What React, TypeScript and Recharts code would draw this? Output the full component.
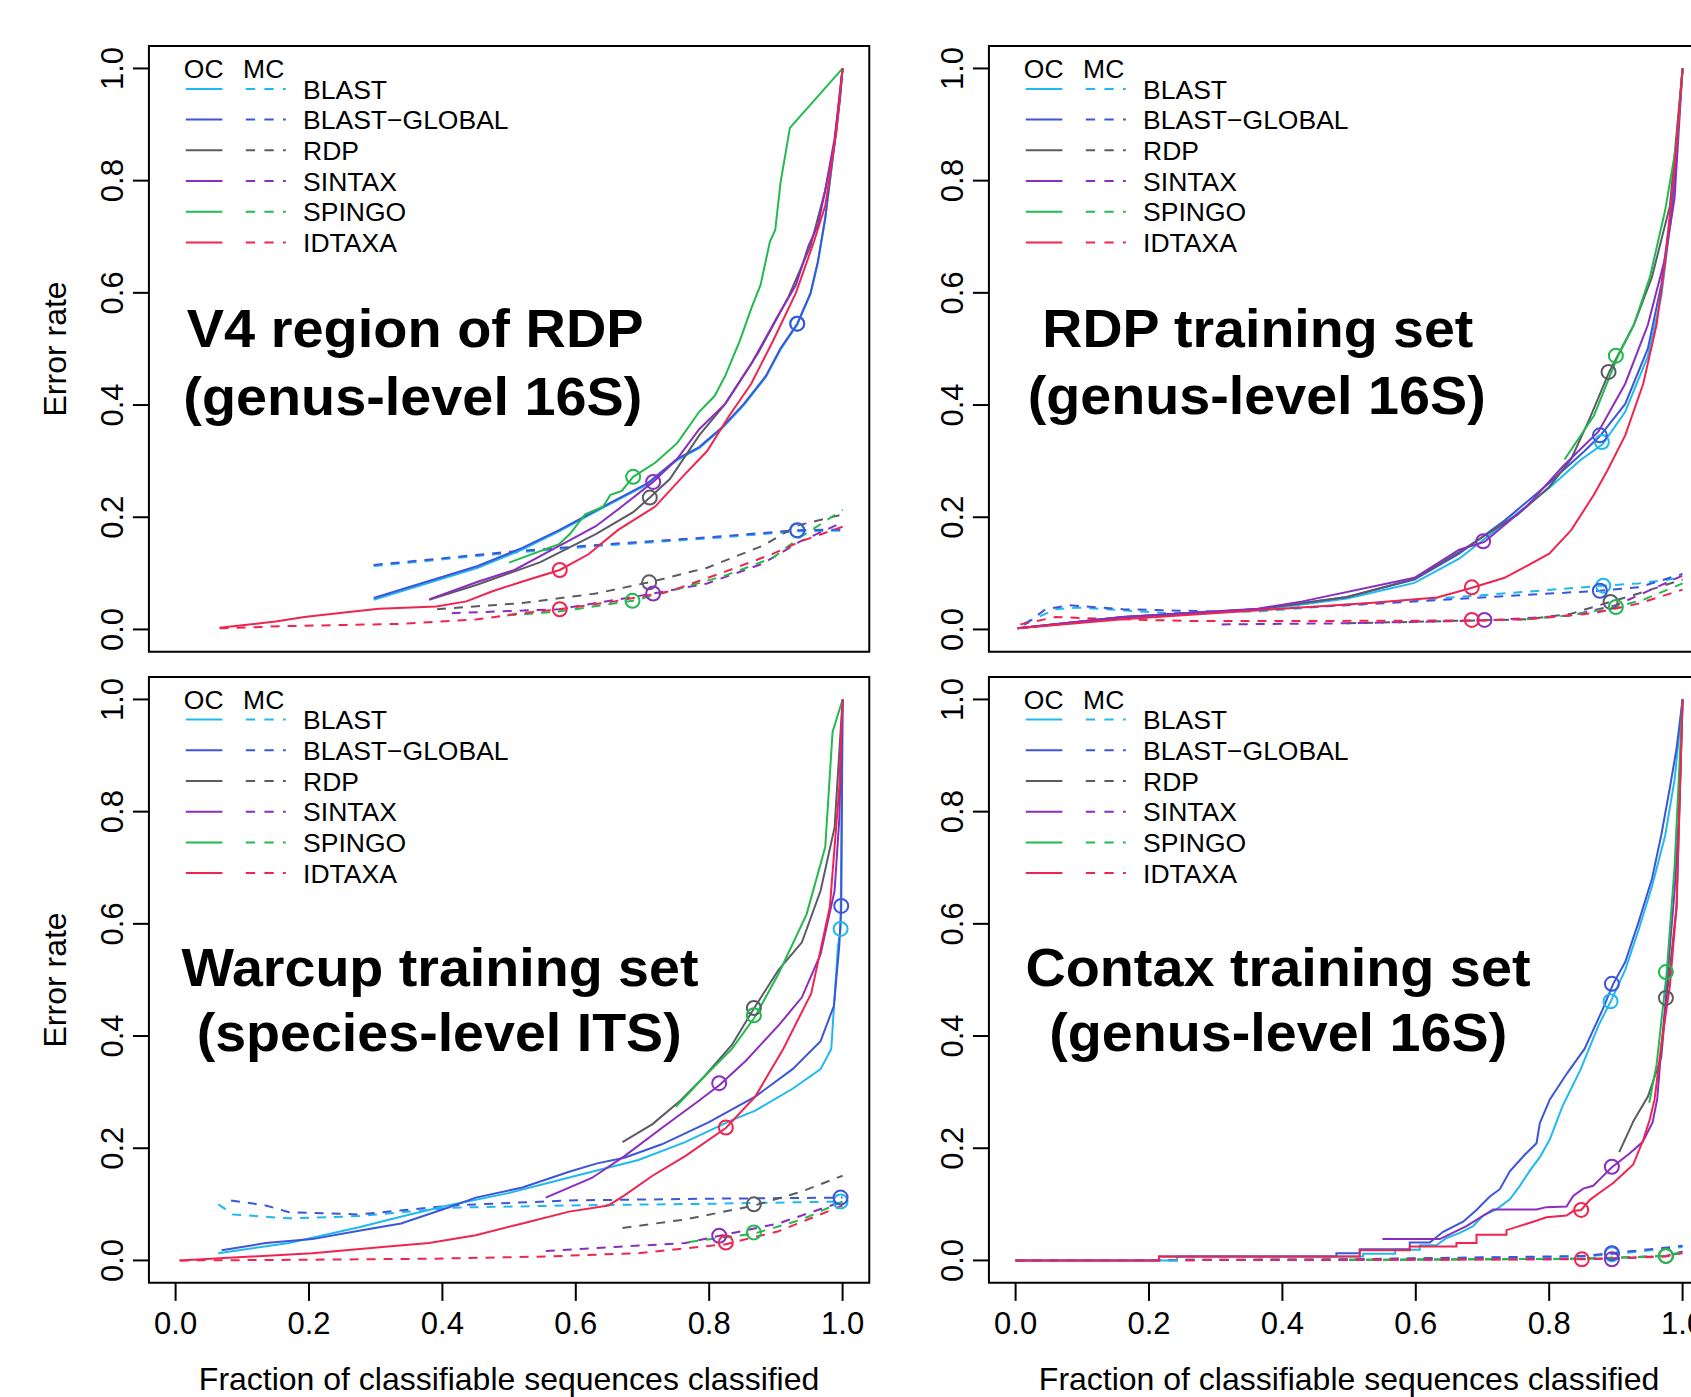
import React from 'react';
import { ComposedChart, Line, Scatter, XAxis, YAxis, ReferenceArea, Legend } from 'recharts';

const methods = ['BLAST', 'BLAST-GLOBAL', 'RDP', 'SINTAX', 'SPINGO', 'IDTAXA'];
const palette = ['#20b9ef', '#3d55d9', '#5b5b66', '#8b2dbf', '#22ba4f', '#f0254f'];
const axisTicks = [0, 0.2, 0.4, 0.6, 0.8, 1];

// V4 region of RDP
const v4OcBlast = [[0.297,0.053],[0.453,0.110],[0.519,0.142],[0.575,0.175],[0.641,0.217],[0.708,0.259],[0.752,0.302],[0.785,0.323],[0.819,0.358],[0.852,0.400],[0.885,0.450],[0.907,0.499],[0.932,0.543],[0.952,0.598],[0.963,0.654],[0.974,0.732],[0.985,0.837],[0.996,0.944],[1,1]];
const v4OcGlobal = [[0.297,0.056],[0.453,0.113],[0.519,0.145],[0.575,0.177],[0.641,0.219],[0.708,0.261],[0.752,0.304],[0.785,0.325],[0.819,0.360],[0.852,0.402],[0.885,0.452],[0.907,0.501],[0.932,0.545],[0.952,0.600],[0.963,0.656],[0.974,0.734],[0.985,0.839],[0.996,0.945],[1,1]];
const v4OcRdp = [[0.380,0.053],[0.453,0.080],[0.547,0.120],[0.630,0.170],[0.686,0.209],[0.711,0.235],[0.741,0.268],[0.785,0.346],[0.824,0.402],[0.874,0.494],[0.919,0.593],[0.952,0.684],[0.974,0.783],[0.988,0.868],[1,1]];
const v4OcSintax = [[0.381,0.054],[0.453,0.085],[0.508,0.106],[0.564,0.142],[0.608,0.170],[0.630,0.184],[0.669,0.219],[0.716,0.263],[0.752,0.304],[0.785,0.357],[0.824,0.402],[0.863,0.473],[0.902,0.557],[0.930,0.614],[0.949,0.684],[0.963,0.720],[0.974,0.783],[0.988,0.875],[1,1]];
const v4OcSpingo = [[0.500,0.119],[0.575,0.152],[0.591,0.170],[0.614,0.205],[0.641,0.219],[0.652,0.240],[0.669,0.247],[0.686,0.272],[0.719,0.297],[0.752,0.332],[0.785,0.388],[0.808,0.416],[0.824,0.452],[0.846,0.515],[0.863,0.572],[0.877,0.614],[0.891,0.691],[0.899,0.712],[0.907,0.797],[0.921,0.894],[1,1]];
const v4OcIdtaxa = [[0.066,0.003],[0.150,0.014],[0.193,0.022],[0.253,0.030],[0.305,0.037],[0.391,0.041],[0.436,0.050],[0.475,0.068],[0.519,0.085],[0.576,0.106],[0.619,0.134],[0.663,0.177],[0.719,0.219],[0.763,0.276],[0.797,0.318],[0.830,0.381],[0.863,0.438],[0.896,0.515],[0.930,0.600],[0.957,0.691],[0.974,0.755],[0.991,0.889],[1,1]];
const v4McBlast = [[0.297,0.113],[0.497,0.136],[0.647,0.150],[0.797,0.162],[0.932,0.175],[1,0.176]];
const v4McGlobal = [[0.297,0.115],[0.497,0.138],[0.647,0.152],[0.797,0.164],[0.932,0.177],[1,0.178]];
const v4McRdp = [[0.392,0.036],[0.519,0.047],[0.630,0.064],[0.710,0.084],[0.797,0.110],[0.880,0.149],[0.932,0.185],[1,0.205]];
const v4McSintax = [[0.414,0.029],[0.575,0.036],[0.716,0.064],[0.797,0.082],[0.880,0.117],[0.935,0.156],[1,0.191]];
const v4McSpingo = [[0.497,0.025],[0.575,0.032],[0.685,0.051],[0.741,0.068],[0.824,0.096],[0.896,0.128],[0.935,0.163],[1,0.213]];
const v4McIdtaxa = [[0.066,0.002],[0.167,0.006],[0.339,0.010],[0.453,0.018],[0.519,0.029],[0.576,0.036],[0.658,0.050],[0.741,0.068],[0.824,0.103],[0.896,0.135],[0.935,0.156],[1,0.183]];
const v4Marks = [['BLAST',0.932,0.545],['BLAST-GLOBAL',0.932,0.545],['RDP',0.711,0.235],['SINTAX',0.716,0.263],['SPINGO',0.686,0.272],['IDTAXA',0.576,0.106],
  ['BLAST',0.932,0.176],['BLAST-GLOBAL',0.932,0.177],['RDP',0.710,0.084],['SINTAX',0.716,0.064],['SPINGO',0.685,0.051],['IDTAXA',0.576,0.036]];

// RDP training set
const rdpOcBlast = [[0.003,0.002],[0.161,0.020],[0.363,0.034],[0.497,0.055],[0.598,0.083],[0.665,0.126],[0.733,0.189],[0.800,0.252],[0.847,0.302],[0.880,0.330],[0.914,0.388],[0.948,0.487],[0.968,0.593],[0.985,0.755],[1,1]];
const rdpOcGlobal = [[0.003,0.002],[0.161,0.022],[0.363,0.036],[0.497,0.058],[0.598,0.089],[0.665,0.135],[0.733,0.194],[0.800,0.261],[0.853,0.318],[0.877,0.346],[0.914,0.402],[0.948,0.501],[0.968,0.614],[0.985,0.769],[1,1]];
const rdpOcRdp = [[0.003,0.002],[0.161,0.022],[0.363,0.036],[0.497,0.058],[0.598,0.090],[0.665,0.138],[0.753,0.205],[0.800,0.254],[0.833,0.304],[0.860,0.374],[0.890,0.459],[0.927,0.543],[0.954,0.628],[0.981,0.755],[1,1]];
const rdpOcSintax = [[0.003,0.002],[0.161,0.022],[0.363,0.037],[0.430,0.050],[0.598,0.092],[0.665,0.142],[0.703,0.156],[0.766,0.219],[0.820,0.290],[0.874,0.353],[0.914,0.438],[0.948,0.543],[0.974,0.663],[0.988,0.769],[1,1]];
const rdpOcSpingo = [[0.823,0.303],[0.867,0.381],[0.903,0.487],[0.927,0.543],[0.951,0.628],[0.974,0.748],[0.991,0.867],[1,1]];
const rdpOcIdtaxa = [[0.003,0.002],[0.161,0.018],[0.363,0.034],[0.531,0.047],[0.632,0.057],[0.683,0.074],[0.733,0.092],[0.766,0.113],[0.800,0.135],[0.833,0.177],[0.867,0.240],[0.887,0.283],[0.914,0.346],[0.941,0.438],[0.961,0.543],[0.974,0.656],[0.988,0.825],[1,1]];
const rdpMcBlast = [[0.013,0.011],[0.030,0.020],[0.060,0.036],[0.094,0.039],[0.228,0.029],[0.363,0.032],[0.531,0.047],[0.699,0.061],[0.881,0.078],[0.934,0.082],[1,0.092]];
const rdpMcGlobal = [[0.013,0.008],[0.045,0.036],[0.081,0.043],[0.161,0.036],[0.296,0.032],[0.497,0.043],[0.699,0.057],[0.876,0.069],[0.934,0.075],[1,0.099]];
const rdpMcRdp = [[0.497,0.011],[0.766,0.018],[0.833,0.028],[0.891,0.049],[0.934,0.064],[1,0.089]];
const rdpMcSintax = [[0.309,0.009],[0.497,0.011],[0.703,0.016],[0.833,0.025],[0.900,0.043],[1,0.096]];
const rdpMcSpingo = [[0.766,0.018],[0.833,0.025],[0.900,0.040],[0.941,0.053],[1,0.082]];
const rdpMcIdtaxa = [[0.007,0.009],[0.060,0.022],[0.161,0.018],[0.262,0.015],[0.430,0.015],[0.684,0.016],[0.766,0.018],[0.867,0.029],[0.934,0.046],[1,0.071]];
const rdpMarks = [['BLAST',0.879,0.334],['BLAST-GLOBAL',0.876,0.346],['RDP',0.889,0.459],['SINTAX',0.701,0.157],['SPINGO',0.900,0.488],['IDTAXA',0.684,0.075],
  ['BLAST',0.881,0.078],['BLAST-GLOBAL',0.876,0.069],['RDP',0.892,0.049],['SINTAX',0.703,0.017],['SPINGO',0.900,0.040],['IDTAXA',0.684,0.017]];

// Warcup training set
const wcOcBlast = [[0.064,0.013],[0.170,0.031],[0.275,0.059],[0.345,0.080],[0.408,0.098],[0.499,0.120],[0.555,0.137],[0.624,0.158],[0.694,0.179],[0.764,0.211],[0.834,0.250],[0.869,0.267],[0.925,0.306],[0.967,0.341],[0.983,0.377],[0.993,0.560],[0.997,0.591],[1,1]];
const wcOcGlobal = [[0.069,0.018],[0.135,0.031],[0.205,0.038],[0.275,0.053],[0.338,0.066],[0.408,0.094],[0.450,0.112],[0.520,0.130],[0.590,0.158],[0.632,0.173],[0.673,0.183],[0.729,0.207],[0.799,0.246],[0.869,0.292],[0.925,0.341],[0.967,0.391],[0.987,0.454],[0.995,0.560],[0.998,0.631],[1,1]];
const wcOcRdp = [[0.670,0.211],[0.715,0.243],[0.757,0.285],[0.792,0.327],[0.834,0.384],[0.868,0.451],[0.904,0.518],[0.939,0.567],[0.967,0.659],[0.988,0.772],[1,1]];
const wcOcSintax = [[0.555,0.112],[0.624,0.147],[0.673,0.186],[0.729,0.236],[0.785,0.285],[0.816,0.313],[0.855,0.356],[0.904,0.419],[0.939,0.469],[0.967,0.546],[0.988,0.659],[0.995,0.786],[1,1]];
const wcOcSpingo = [[0.750,0.274],[0.792,0.327],[0.834,0.377],[0.868,0.433],[0.904,0.511],[0.946,0.617],[0.974,0.737],[0.985,0.942],[1,1]];
const wcOcIdtaxa = [[0.006,0.000],[0.100,0.006],[0.205,0.013],[0.310,0.024],[0.380,0.031],[0.450,0.045],[0.520,0.066],[0.590,0.087],[0.649,0.098],[0.673,0.116],[0.715,0.151],[0.764,0.186],[0.825,0.236],[0.869,0.292],[0.911,0.377],[0.953,0.476],[0.981,0.631],[0.995,0.843],[1,1]];
const wcMcBlast = [[0.064,0.100],[0.086,0.082],[0.170,0.075],[0.275,0.079],[0.415,0.094],[0.590,0.098],[0.799,0.101],[1,0.105]];
const wcMcGlobal = [[0.083,0.107],[0.135,0.098],[0.170,0.086],[0.275,0.082],[0.415,0.098],[0.590,0.107],[0.799,0.110],[1,0.112]];
const wcMcRdp = [[0.670,0.058],[0.764,0.073],[0.868,0.098],[0.939,0.123],[1,0.151]];
const wcMcSintax = [[0.555,0.017],[0.659,0.024],[0.764,0.031],[0.816,0.044],[0.904,0.066],[1,0.105]];
const wcMcSpingo = [[0.770,0.033],[0.868,0.048],[0.939,0.073],[1,0.105]];
const wcMcIdtaxa = [[0.006,0.000],[0.170,0.001],[0.380,0.003],[0.555,0.007],[0.694,0.013],[0.825,0.029],[0.904,0.052],[1,0.098]];
const wcMarks = [['BLAST',0.997,0.591],['BLAST-GLOBAL',0.998,0.632],['RDP',0.867,0.450],['SINTAX',0.815,0.316],['SPINGO',0.867,0.437],['IDTAXA',0.825,0.237],
  ['BLAST',0.997,0.105],['BLAST-GLOBAL',0.997,0.112],['RDP',0.867,0.100],['SINTAX',0.815,0.044],['SPINGO',0.867,0.050],['IDTAXA',0.825,0.032]];

// Contax training set
const ctOcBlast = [[0,0],[0.242,0],[0.242,0.007],[0.521,0.007],[0.521,0.012],[0.569,0.012],[0.569,0.019],[0.606,0.019],[0.606,0.027],[0.631,0.027],[0.646,0.040],[0.666,0.049],[0.686,0.061],[0.701,0.080],[0.721,0.091],[0.741,0.109],[0.756,0.133],[0.771,0.160],[0.786,0.184],[0.801,0.216],[0.820,0.275],[0.847,0.340],[0.874,0.419],[0.892,0.461],[0.914,0.518],[0.934,0.589],[0.954,0.666],[0.974,0.758],[0.988,0.857],[1,1]];
const ctOcGlobal = [[0,0],[0.215,0],[0.215,0.007],[0.481,0.007],[0.481,0.013],[0.516,0.013],[0.516,0.020],[0.591,0.020],[0.591,0.032],[0.621,0.032],[0.641,0.051],[0.671,0.069],[0.691,0.090],[0.711,0.114],[0.726,0.127],[0.741,0.159],[0.763,0.188],[0.781,0.209],[0.786,0.245],[0.801,0.287],[0.827,0.334],[0.853,0.377],[0.880,0.447],[0.896,0.493],[0.914,0.532],[0.934,0.603],[0.954,0.680],[0.968,0.758],[0.981,0.843],[0.991,0.913],[1,1]];
const ctOcRdp = [[0.905,0.193],[0.927,0.250],[0.948,0.292],[0.968,0.362],[0.976,0.469],[0.981,0.520],[0.991,0.631],[1,1]];
const ctOcSintax = [[0.550,0.038],[0.636,0.038],[0.676,0.061],[0.716,0.091],[0.781,0.091],[0.796,0.095],[0.826,0.096],[0.836,0.115],[0.851,0.128],[0.866,0.133],[0.876,0.145],[0.894,0.166],[0.920,0.190],[0.940,0.211],[0.955,0.246],[0.962,0.288],[0.968,0.377],[0.974,0.454],[0.981,0.560],[0.988,0.659],[0.995,0.807],[1,1]];
const ctOcSpingo = [[0.950,0.281],[0.961,0.349],[0.976,0.511],[0.988,0.702],[1,1]];
const ctOcIdtaxa = [[0,0],[0.215,0],[0.215,0.007],[0.516,0.007],[0.516,0.018],[0.591,0.018],[0.591,0.025],[0.661,0.025],[0.661,0.031],[0.691,0.031],[0.691,0.046],[0.736,0.046],[0.736,0.054],[0.776,0.069],[0.796,0.077],[0.826,0.080],[0.836,0.088],[0.848,0.090],[0.861,0.108],[0.876,0.121],[0.896,0.138],[0.916,0.160],[0.926,0.171],[0.941,0.215],[0.951,0.252],[0.958,0.287],[0.968,0.384],[0.981,0.490],[0.991,0.631],[1,1]];
const ctMcBlast = [[0,0],[0.5,0.002],[0.85,0.007],[0.894,0.011],[1,0.024]];
const ctMcGlobal = [[0,0],[0.5,0.002],[0.85,0.008],[0.894,0.013],[1,0.026]];
const ctMcRdp = [[0.5,0.001],[0.85,0.003],[0.975,0.008],[1,0.014]];
const ctMcSintax = [[0,0],[0.5,0.001],[0.894,0.003],[0.975,0.008],[1,0.016]];
const ctMcSpingo = [[0.5,0.001],[0.85,0.003],[0.975,0.008],[1,0.016]];
const ctMcIdtaxa = [[0,0],[0.5,0.001],[0.849,0.002],[0.975,0.007],[1,0.013]];
const ctMarks = [['BLAST',0.892,0.462],['BLAST-GLOBAL',0.894,0.493],['RDP',0.975,0.468],['SINTAX',0.894,0.167],['SPINGO',0.975,0.514],['IDTAXA',0.848,0.090],
  ['BLAST',0.894,0.011],['BLAST-GLOBAL',0.894,0.013],['RDP',0.975,0.008],['SINTAX',0.894,0.002],['SPINGO',0.975,0.008],['IDTAXA',0.849,0.002]];

// layout
const YW = 148.92;
const PW = 720.36;
const PH = 605.88;
const TOPM = 10;
const XH = 120;
const CW = YW + PW + 10;
const CH = TOPM + PH + XH;
const FONT = '"Liberation Sans", Arial, Helvetica, sans-serif';

const panels = [
  { id: 'v4', left: 0, top: 36.06, xLabels: false, yTitle: true, legendRow: 42.9,
    oc: [v4OcBlast, v4OcGlobal, v4OcRdp, v4OcSintax, v4OcSpingo, v4OcIdtaxa],
    mc: [v4McBlast, v4McGlobal, v4McRdp, v4McSintax, v4McSpingo, v4McIdtaxa], marks: v4Marks,
    title: [['V4 region of RDP', 415.2, 311.5, 457], ['(genus-level 16S)', 412.8, 378.7, 459]] },
  { id: 'rdp', left: 840.4, top: 36.06, xLabels: false, yTitle: false, legendRow: 42.9,
    oc: [rdpOcBlast, rdpOcGlobal, rdpOcRdp, rdpOcSintax, rdpOcSpingo, rdpOcIdtaxa],
    mc: [rdpMcBlast, rdpMcGlobal, rdpMcRdp, rdpMcSintax, rdpMcSpingo, rdpMcIdtaxa], marks: rdpMarks,
    title: [['RDP training set', 417.8, 311.5, 431], ['(genus-level 16S)', 416.7, 377.6, 458]] },
  { id: 'wc', left: 0, top: 667.06, xLabels: true, yTitle: true, legendRow: 42.6,
    oc: [wcOcBlast, wcOcGlobal, wcOcRdp, wcOcSintax, wcOcSpingo, wcOcIdtaxa],
    mc: [wcMcBlast, wcMcGlobal, wcMcRdp, wcMcSintax, wcMcSpingo, wcMcIdtaxa], marks: wcMarks,
    title: [['Warcup training set', 440, 319.2, 517], ['(species-level ITS)', 439.2, 384.5, 485]] },
  { id: 'ct', left: 840.4, top: 667.06, xLabels: true, yTitle: false, legendRow: 42.6,
    oc: [ctOcBlast, ctOcGlobal, ctOcRdp, ctOcSintax, ctOcSpingo, ctOcIdtaxa],
    mc: [ctMcBlast, ctMcGlobal, ctMcRdp, ctMcSintax, ctMcSpingo, ctMcIdtaxa], marks: ctMarks,
    title: [['Contax training set', 438, 319.2, 505], ['(genus-level 16S)', 438.2, 384.5, 458]] },
];

const toRows = (pts: number[][]) => pts.map(([x, y]) => ({ x, y }));
const colorOf = (m: string) => palette[methods.indexOf(m)];
const shown = (m: string) => m.replace('-', '\u2212');

const XTick = (props: any) => (
  <text x={props.x} y={props.y + 33} textAnchor="middle" fontSize={31} fill="#000">
    {Number(props.payload.value).toFixed(1)}
  </text>
);

const YTick = (props: any) => {
  const bx = props.x - 10;
  return (
    <text x={bx} y={props.y} transform={`rotate(-90 ${bx} ${props.y})`} textAnchor="middle" fontSize={31} fill="#000">
      {Number(props.payload.value).toFixed(1)}
    </text>
  );
};

const YTitle = (props: any) => {
  const vb = props.viewBox || { x: 0, y: TOPM, height: PH };
  const cx = vb.x + 66;
  const cy = vb.y + vb.height / 2;
  return (
    <text x={cx} y={cy} transform={`rotate(-90 ${cx} ${cy})`} textAnchor="middle" fontSize={32} fill="#000">
      Error rate
    </text>
  );
};

const XTitle = (props: any) => {
  const vb = props.viewBox || { x: YW, y: TOPM + PH, width: PW };
  return (
    <text x={vb.x + vb.width / 2} y={vb.y + 107.6} textAnchor="middle" fontSize={32} fill="#000">
      Fraction of classifiable sequences classified
    </text>
  );
};

const legendBox = (first: number) => () => (
  <svg width={330} height={220} style={{ display: 'block', overflow: 'visible', fontFamily: FONT }}>
    <text x={4.8} y={32.1} fontSize={26.5} fill="#000">OC</text>
    <text x={64.1} y={32.1} fontSize={26.5} fill="#000">MC</text>
    {methods.map((m, i) => {
      const cy = first + i * 30.7;
      return (
        <g key={m}>
          <line x1={6.8} x2={43.4} y1={cy} y2={cy} stroke={palette[i]} strokeWidth={2} />
          <line x1={66.8} x2={106.8} y1={cy} y2={cy} stroke={palette[i]} strokeWidth={2} strokeDasharray="9.3 9.3" />
          <text x={124.1} y={cy + 9.6} fontSize={26.5} fill="#000">{shown(m)}</text>
        </g>
      );
    })}
  </svg>
);

const Ring = (props: any) => {
  if (props.cx == null || props.cy == null) return null;
  return <circle cx={props.cx} cy={props.cy} r={7} fill="none" stroke={colorOf(props.payload.method)} strokeWidth={2} />;
};

function Panel({ p }: { p: (typeof panels)[number] }) {
  const marks = p.marks.map(([method, x, y]) => ({ method: method as string, x: x as number, y: y as number }));
  return (
    <div style={{ position: 'absolute', left: p.left, top: p.top, width: CW, height: CH }}>
      <ComposedChart width={CW} height={CH} margin={{ top: TOPM, right: 10, bottom: 0, left: 0 }}>
        <XAxis
          dataKey="x"
          type="number"
          domain={[-0.04, 1.04]}
          ticks={axisTicks}
          allowDataOverflow
          axisLine={false}
          tickSize={18}
          tickMargin={0}
          height={XH}
          tickLine={{ stroke: '#000', strokeWidth: 2 }}
          tick={p.xLabels ? XTick : false}
          label={p.xLabels ? XTitle : undefined}
        />
        <YAxis
          dataKey="y"
          type="number"
          domain={[-0.04, 1.04]}
          ticks={axisTicks}
          allowDataOverflow
          axisLine={false}
          tickSize={16}
          tickMargin={0}
          width={YW}
          tickLine={{ stroke: '#000', strokeWidth: 2 }}
          tick={YTick}
          label={p.yTitle ? YTitle : undefined}
        />
        <ReferenceArea x1={-0.04} x2={1.04} y1={-0.04} y2={1.04} fill="none" stroke="#000" strokeWidth={2} ifOverflow="visible" />
        <Legend
          layout="vertical"
          align="center"
          verticalAlign="middle"
          content={legendBox(p.legendRow)}
          wrapperStyle={{ left: YW + 30, top: TOPM, width: 330, height: 220 }}
        />
        {methods.map((m, i) => (
          <Line
            key={`mc-${m}`}
            data={toRows(p.mc[i])}
            dataKey="y"
            name={`${m} MC`}
            type="linear"
            stroke={palette[i]}
            strokeWidth={2}
            strokeDasharray="9 8"
            dot={false}
            activeDot={false}
            legendType="none"
            isAnimationActive={false}
          />
        ))}
        {methods.map((m, i) => (
          <Line
            key={`oc-${m}`}
            data={toRows(p.oc[i])}
            dataKey="y"
            name={`${m} OC`}
            type="linear"
            stroke={palette[i]}
            strokeWidth={2}
            dot={false}
            activeDot={false}
            isAnimationActive={false}
          />
        ))}
        <Scatter data={marks} dataKey="y" shape={Ring} legendType="none" isAnimationActive={false} />
        {p.title.map(([t, x, y, len]) => (
          <text
            key={t as string}
            x={x as number}
            y={y as number}
            textAnchor="middle"
            fontSize={53}
            fontWeight="bold"
            fill="#000"
            textLength={len as number}
            lengthAdjust="spacingAndGlyphs"
          >
            {t}
          </text>
        ))}
      </ComposedChart>
    </div>
  );
}

export default function App() {
  return (
    <div style={{ position: 'absolute', left: 0, top: 0, width: 1691, height: 1397, overflow: 'hidden', background: '#fff', fontFamily: FONT }}>
      {panels.map((p) => (
        <Panel key={p.id} p={p} />
      ))}
    </div>
  );
}
